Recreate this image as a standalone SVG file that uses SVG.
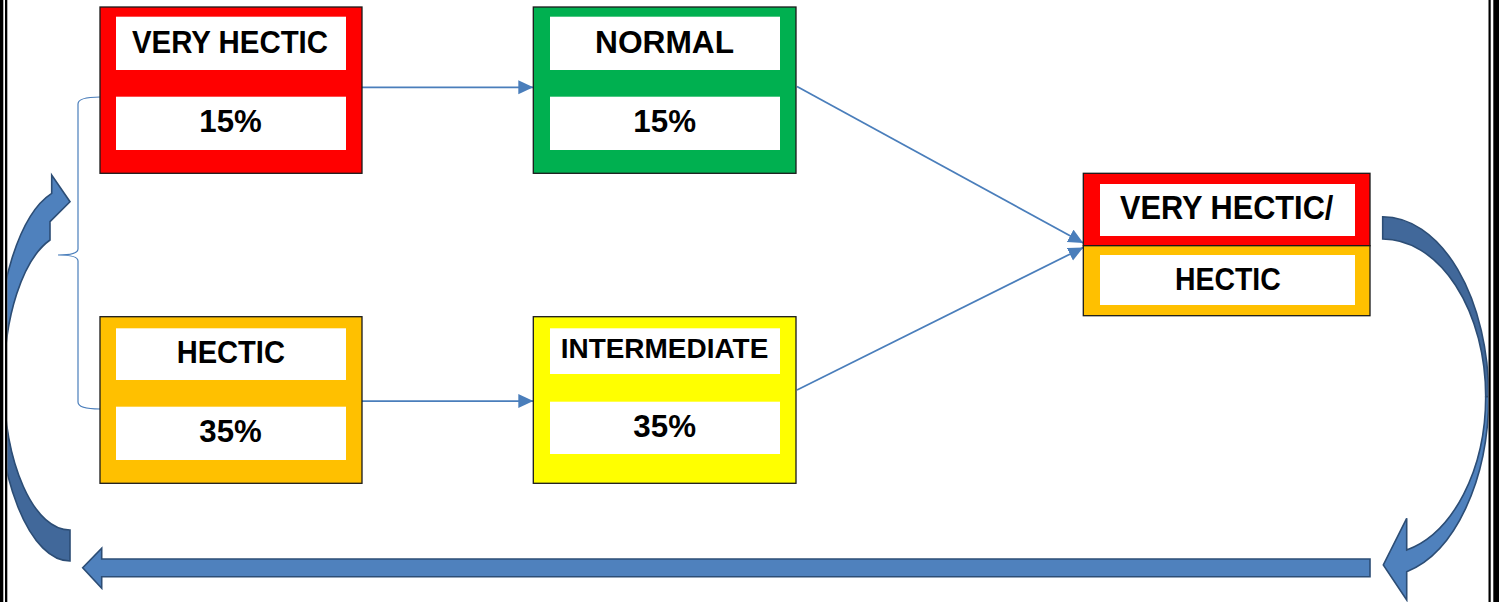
<svg xmlns="http://www.w3.org/2000/svg" width="1499" height="602" viewBox="0 0 1499 602">
  <defs>
    <style>
      .box { stroke: #1a1a1a; stroke-width: 1.3; }
      .inner { fill: #ffffff; stroke: none; }
      .lbl { font-family: "Liberation Sans", Arial, sans-serif; font-weight: bold; font-size: 32px; fill: #000000; text-anchor: middle; }
      .conn { stroke: #4a7ebb; stroke-width: 1.75; fill: none; }
      .brace { stroke: #4a7ebb; stroke-width: 1.2; fill: none; }
      .blk { fill: #4f81bd; stroke: #2c4d75; stroke-width: 1.6; stroke-linejoin: miter; }
      .blkdark { fill: #41689a; stroke: #2c4d75; stroke-width: 1.6; }
    </style>
    <marker id="ah" markerUnits="userSpaceOnUse" markerWidth="16" markerHeight="15" refX="15" refY="7" orient="auto" viewBox="0 0 16 15">
      <path d="M0,0 L15,7 L0,14 Z" fill="#4a7ebb"/>
    </marker>
  </defs>

  <rect x="0" y="0" width="1499" height="602" fill="#ffffff"/>

  <!-- block arrows (loop) -->
  <g id="loop-arrows">
    <g id="arrow-left-curved">
      <path class="blkdark" d="M70,561 A74 186.8 0 0 1 -4,374.2 L4,381.5 A66 148.5 0 0 0 70,530 Z"/>
      <path class="blk" d="M-4,374.2 A74 186.8 0 0 1 51.7,193.3 L51.7,175 L70,201.7 L50,221.7 L50,240 A66 148.5 0 0 0 4,381.5 Z"/>
    </g>
    <g id="arrow-right-curved">
      <path class="blkdark" d="M1382.7,216.7 A106 179.9 0 0 1 1488.7,396.6 L1485.7,396.7 A103 157.7 0 0 0 1382.7,239 Z"/>
      <path class="blk" d="M1488.7,396.6 A106 179.9 0 0 1 1406.7,571.7 L1406.7,600 L1383.3,565 L1406.7,518.3 L1406.7,550 A103 157.7 0 0 0 1485.7,396.7 Z"/>
    </g>
    <g id="arrow-bottom">
      <path class="blk" d="M1370,559 L1370,576.7 L101.7,576.7 L101.7,588.3 L82.7,567.8 L101.7,548.3 L101.7,559 Z"/>
    </g>
  </g>

  <!-- page border -->
  <g id="page-border">
    <rect x="0" y="0" width="7.3" height="602" fill="#ffffff"/>
    <rect x="0" y="0" width="3.3" height="602" fill="#000000"/>
    <rect x="5" y="0" width="2.3" height="602" fill="#000000"/>
    <rect x="1488.5" y="0" width="10.5" height="602" fill="#ffffff"/>
    <rect x="1488.5" y="0" width="2.2" height="602" fill="#000000"/>
    <rect x="1493.3" y="0" width="5.7" height="602" fill="#000000"/>
  </g>

  <!-- connectors -->
  <g id="connectors">
    <path class="brace" d="M100,97 Q78,97 78,104 L78,249 Q78,255 58,255 Q78,255 78,261 L78,402 Q78,409 100,409"/>
    <line class="conn" x1="362" y1="87.3" x2="533.3" y2="87.3" marker-end="url(#ah)"/>
    <line class="conn" x1="362" y1="401" x2="533.3" y2="401" marker-end="url(#ah)"/>
    <line class="conn" x1="797" y1="86.5" x2="1083.3" y2="243" marker-end="url(#ah)"/>
    <line class="conn" x1="797" y1="390" x2="1083.3" y2="247.5" marker-end="url(#ah)"/>
  </g>

  <!-- nodes -->
  <g id="node-very-hectic">
    <rect class="box" x="100" y="7" width="262" height="166.3" fill="#ff0000"/>
    <rect class="inner" x="116" y="16.7" width="230" height="53.3"/>
    <rect class="inner" x="116" y="96.7" width="230" height="53.3"/>
    <text class="lbl" x="230" y="52.7" textLength="196" lengthAdjust="spacingAndGlyphs">VERY HECTIC</text>
    <text class="lbl" x="230.5" y="131.7" textLength="62.4" lengthAdjust="spacingAndGlyphs">15%</text>
  </g>

  <g id="node-normal">
    <rect class="box" x="533.3" y="7" width="262.7" height="166.3" fill="#00b050"/>
    <rect class="inner" x="550" y="16.7" width="230" height="53.3"/>
    <rect class="inner" x="550" y="96.7" width="230" height="53.3"/>
    <text class="lbl" x="664.5" y="52.7" textLength="139" lengthAdjust="spacingAndGlyphs">NORMAL</text>
    <text class="lbl" x="664.7" y="131.7" textLength="62.7" lengthAdjust="spacingAndGlyphs">15%</text>
  </g>

  <g id="node-hectic">
    <rect class="box" x="100" y="316.7" width="262" height="166.6" fill="#ffc000"/>
    <rect class="inner" x="116" y="328.3" width="230" height="51.7"/>
    <rect class="inner" x="116" y="406.7" width="230" height="53.3"/>
    <text class="lbl" x="230.8" y="362.7" textLength="108.3" lengthAdjust="spacingAndGlyphs">HECTIC</text>
    <text class="lbl" x="230.5" y="441.7" textLength="62.4" lengthAdjust="spacingAndGlyphs">35%</text>
  </g>

  <g id="node-intermediate">
    <rect class="box" x="533.3" y="316.7" width="262.7" height="166.6" fill="#ffff00"/>
    <rect class="inner" x="550" y="328.3" width="230" height="45.7"/>
    <rect class="inner" x="550" y="401.7" width="230" height="52.3"/>
    <text class="lbl" x="664.5" y="358.3" style="font-size:28px" textLength="207.6" lengthAdjust="spacingAndGlyphs">INTERMEDIATE</text>
    <text class="lbl" x="664.7" y="436.7" textLength="62.7" lengthAdjust="spacingAndGlyphs">35%</text>
  </g>

  <g id="node-very-hectic-hectic">
    <rect class="box" x="1083.3" y="173.3" width="286.7" height="72.4" fill="#ff0000"/>
    <rect class="box" x="1083.3" y="245.7" width="286.7" height="70" fill="#ffc000"/>
    <rect class="inner" x="1100" y="184" width="255" height="52"/>
    <rect class="inner" x="1100" y="255" width="255" height="50"/>
    <text class="lbl" x="1226.7" y="219.3" style="font-size:33px" textLength="213.3" lengthAdjust="spacingAndGlyphs">VERY HECTIC/</text>
    <text class="lbl" x="1227.8" y="290" textLength="105.7" lengthAdjust="spacingAndGlyphs">HECTIC</text>
  </g>
</svg>
